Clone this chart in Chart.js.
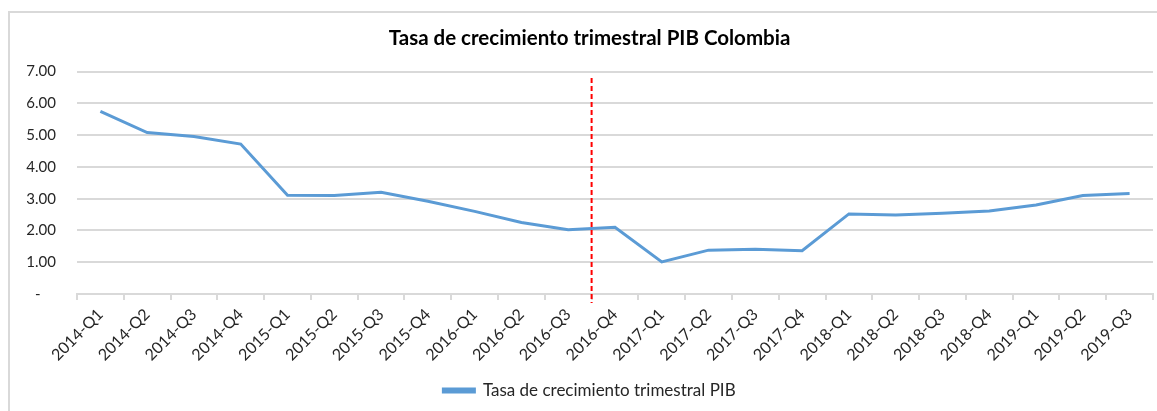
<!DOCTYPE html>
<html>
<head>
<meta charset="utf-8">
<script src="https://cdn.jsdelivr.net/npm/chart.js@4"></script>
<style>
  html, body { margin: 0; padding: 0; background: #fff; overflow: hidden; }
  .frame { position: absolute; left: 8px; top: 11px; width: 1200px; height: 450px;
           border-top: 2px solid #d9d9d9; border-left: 2px solid #d9d9d9; }
  canvas { position: absolute; left: 0; top: 0; }
</style>
</head>
<body>
<div class="frame"></div>
<canvas id="chart" width="1157" height="411"></canvas>
<script>
const quarters = [
  "2014-Q1", "2014-Q2", "2014-Q3", "2014-Q4",
  "2015-Q1", "2015-Q2", "2015-Q3", "2015-Q4",
  "2016-Q1", "2016-Q2", "2016-Q3", "2016-Q4",
  "2017-Q1", "2017-Q2", "2017-Q3", "2017-Q4",
  "2018-Q1", "2018-Q2", "2018-Q3", "2018-Q4",
  "2019-Q1", "2019-Q2", "2019-Q3"
];
const growthRate = [
  5.75, 5.08, 4.96, 4.72,
  3.11, 3.10, 3.20, 2.92,
  2.60, 2.25, 2.02, 2.10,
  1.01, 1.38, 1.41, 1.36,
  2.52, 2.49, 2.54, 2.61,
  2.80, 3.10, 3.16
];
const yTicks = [0, 1, 2, 3, 4, 5, 6, 7];
// dashed marker sits between 2016-Q3 and 2016-Q4
const markerAfter = "2016-Q3";

const FONT = "Lato, 'Open Sans', sans-serif";

const markerPlugin = {
  id: "marker",
  afterDatasetsDraw(chart) {
    const x = chart.scales.x;
    const y = chart.scales.y;
    const i = quarters.indexOf(markerAfter);
    const px = (x.getPixelForValue(i) + x.getPixelForValue(i + 1)) / 2;
    const ctx = chart.ctx;
    ctx.save();
    ctx.strokeStyle = "#ff0000";
    ctx.lineWidth = 2;
    ctx.setLineDash([5, 3]);
    ctx.beginPath();
    ctx.moveTo(px, y.getPixelForValue(6.8));
    ctx.lineTo(px, y.bottom + 9);
    ctx.stroke();
    ctx.restore();
  }
};

new Chart(document.getElementById("chart"), {
  type: "line",
  data: {
    labels: quarters,
    datasets: [{
      label: "Tasa de crecimiento trimestral PIB",
      data: growthRate,
      borderColor: "#5b9bd5",
      backgroundColor: "#5b9bd5",
      borderWidth: 3,
      pointRadius: 0,
      tension: 0
    }]
  },
  options: {
    responsive: false,
    animation: false,
    layout: { padding: { left: 26, right: 4, top: 8, bottom: 2 } },
    plugins: {
      title: {
        display: true,
        text: "Tasa de crecimiento trimestral PIB Colombia",
        color: "#000",
        font: { family: FONT, size: 20.5, weight: "bold" },
        padding: { top: 18, bottom: 21 }
      },
      legend: {
        position: "bottom",
        labels: {
          color: "#262626",
          font: { family: FONT, size: 17 },
          boxWidth: 31,
          boxHeight: 3,
          padding: 10
        }
      },
      tooltip: { enabled: false }
    },
    scales: {
      x: {
        offset: true,
        afterFit(axis) { axis.height = 78; },
        grid: {
          display: true,
          drawOnChartArea: false,
          offset: true,
          tickLength: 6,
          color: "#d9d9d9",
          lineWidth: 2
        },
        border: { color: "#d9d9d9", width: 2 },
        ticks: {
          color: "#262626",
          font: { family: FONT, size: 16 },
          maxRotation: 45,
          minRotation: 45,
          autoSkip: false,
          padding: 5
        }
      },
      y: {
        min: 0,
        max: 7,
        afterBuildTicks(axis) { axis.ticks = yTicks.map(v => ({ value: v })); },
        afterFit(axis) { axis.width = 51; },
        grid: { color: "#d9d9d9", lineWidth: 2, drawTicks: false },
        border: { display: false },
        ticks: {
          color: "#262626",
          font: { family: FONT, size: 15 },
          padding: 21,
          callback: v => v === 0 ? "-    " : v.toFixed(2)
        }
      }
    }
  },
  plugins: [markerPlugin]
});
</script>
</body>
</html>
